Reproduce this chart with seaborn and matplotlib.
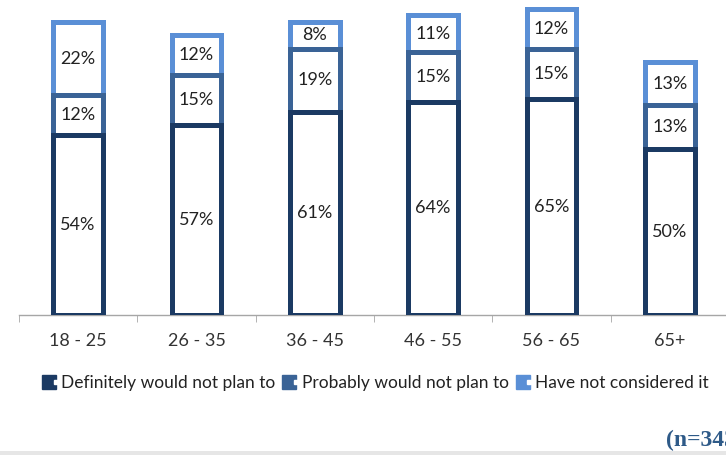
import numpy as np
import pandas as pd
import matplotlib
matplotlib.use("Agg")
import matplotlib.pyplot as plt
import seaborn as sns
from matplotlib.lines import Line2D
from matplotlib.legend_handler import HandlerTuple

# ===============================
# DATA
# ===============================
age_groups = ["18 - 25", "26 - 35", "36 - 45", "46 - 55", "56 - 65", "65+"]
definitely_not = [54, 57, 61, 64, 65, 50]
probably_not = [12, 15, 19, 15, 15, 13]
not_considered = [22, 12, 8, 11, 12, 13]
series_names = ["Definitely would not plan to", "Probably would not plan to", "Have not considered it"]

colors = ["#1B3A63", "#3A6396", "#5A8FD6"]

sns.set_style("white")
plt.rcParams['font.family'] = ['Lato', 'DejaVu Sans']

fig = plt.figure(figsize=(7.26, 4.55), dpi=100)
ax = fig.add_axes([19 / 726, 140 / 455, 710 / 726, 313 / 455])

layers = [definitely_not, probably_not, not_considered]
cum = np.cumsum(np.array(layers), axis=0)

# draw from the tallest (top) layer down so the lower outlines sit on top
for i in [2, 1, 0]:
    df = pd.DataFrame({"age": age_groups, "value": cum[i]})
    sns.barplot(data=df, x="age", y="value", ax=ax, color="white",
                edgecolor=colors[i], linewidth=3.6, width=0.42,
                saturation=1, zorder=2 + (2 - i))

# segment labels
for i, layer in enumerate(layers):
    bottoms = cum[i] - np.array(layer)
    for x, (b, v) in enumerate(zip(bottoms, layer)):
        ax.text(x, b + v / 2, f"{v}%", ha="center", va="center",
                fontsize=13, color="#222222", zorder=10)

ax.set_xlim(-0.5, 5.5)
ax.set_ylim(0, 94)
ax.set_xlabel("")
ax.set_ylabel("")
ax.set_yticks([])
for s in ["top", "right", "left"]:
    ax.spines[s].set_visible(False)
ax.spines["bottom"].set_color("#A6A6A6")
ax.spines["bottom"].set_linewidth(1)
ax.set_xticks(np.arange(-0.5, 6, 1), minor=True)
ax.tick_params(axis="x", which="minor", length=5, color="#A6A6A6", bottom=True)
ax.tick_params(axis="x", which="major", length=0, labelsize=13, pad=13, colors="#333333")

# legend
handles = []
for c in colors:
    outer = Line2D([], [], marker="s", linestyle="", markersize=10,
                   markerfacecolor=c, markeredgecolor=c)
    inner = Line2D([], [], marker="s", linestyle="", markersize=3.5,
                   markerfacecolor="white", markeredgecolor="white")
    handles.append((outer, inner))
fig.legend(handles, series_names, handler_map={tuple: HandlerTuple(ndivide=None, pad=0)},
           loc="center", bbox_to_anchor=(377 / 726, 1 - 383 / 455), ncol=3,
           frameon=False, fontsize=12.5, handlelength=0.8, handletextpad=0.1,
           columnspacing=0.6, labelcolor="#222222")

fig.text(666 / 726, 1 - 440 / 455, "(n=343)", ha="left", va="center",
         fontsize=17, fontweight="bold", family="Liberation Serif", color="#2E5A88")

# thin grey band at the bottom
fig.patches.append(plt.Rectangle((0, 0), 1, 4 / 455, transform=fig.transFigure,
                                 facecolor="#E6E6E6", edgecolor="none"))

fig.savefig("out.png", dpi=100)
